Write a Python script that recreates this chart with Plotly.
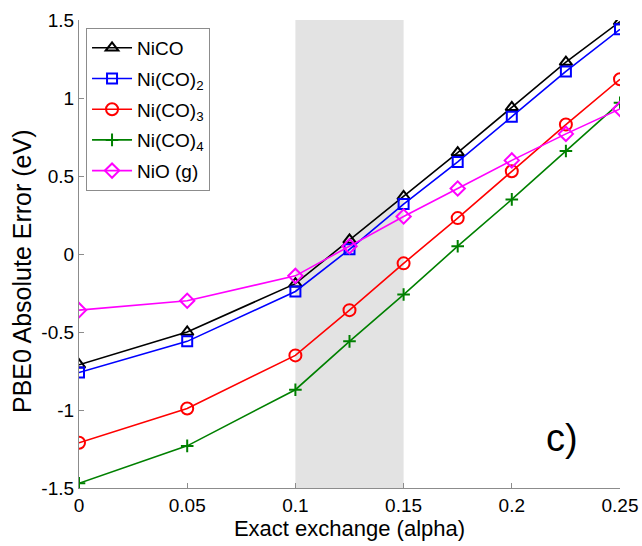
import plotly.graph_objects as go

alpha = [0, 0.05, 0.1, 0.125, 0.15, 0.175, 0.2, 0.225, 0.25]
nico = [-0.71, -0.50, -0.19, 0.09, 0.37, 0.65, 0.94, 1.23, 1.49]
nico2 = [-0.76, -0.56, -0.24, 0.03, 0.32, 0.59, 0.88, 1.17, 1.44]
nico3 = [-1.21, -0.99, -0.65, -0.36, -0.06, 0.23, 0.53, 0.83, 1.12]
nico4 = [-1.47, -1.23, -0.87, -0.56, -0.26, 0.05, 0.35, 0.66, 0.97]
nio = [-0.36, -0.30, -0.14, 0.05, 0.24, 0.42, 0.60, 0.77, 0.93]

names = ["NiCO", "Ni(CO)<sub>2</sub>", "Ni(CO)<sub>3</sub>", "Ni(CO)<sub>4</sub>", "NiO (g)"]
series = [nico, nico2, nico3, nico4, nio]
colors = ["#000000", "#0000ff", "#ff0000", "#008000", "#ff00ff"]
symbols = ["triangle-up-open", "square-open", "circle-open", "cross-thin-open", "diamond-open"]
sizes = [11, 10, 12, 9, 11]

shade_x = [0.1, 0.15]
y_range = [-1.5, 1.5]
x_range = [0, 0.25]

FONT = "Liberation Sans, Arial"

fig = go.Figure()
for i, (name, ys, c, s, sz) in enumerate(zip(names, series, colors, symbols, sizes)):
    fig.add_trace(go.Scatter(
        x=alpha, y=ys, name=name, mode="lines+markers", legendgroup=f"g{i}",
        line=dict(color=c, width=1.6),
        marker=dict(symbol=s, size=sz, color=c, line=dict(color=c, width=2)),
    ))

fig.add_shape(type="rect", xref="x", yref="y", x0=shade_x[0], x1=shade_x[1],
              y0=y_range[0], y1=y_range[1], fillcolor="#e3e3e3", line=dict(width=0),
              layer="below")

fig.add_annotation(x=0.2232, y=-1.18, xref="x", yref="y", text="c)", showarrow=False,
                   font=dict(size=38, color="black", family=FONT))

fig.add_annotation(x=-0.105, y=0.462, xref="paper", yref="paper",
                   text="PBE0 Absolute Error (eV)", showarrow=False, textangle=-90,
                   xanchor="center", yanchor="middle",
                   font=dict(size=25, color="black", family=FONT))

axis_common = dict(
    showgrid=False, zeroline=False, showline=True, linecolor="#8c8c8c", linewidth=1.2,
    ticks="inside", ticklen=5, tickcolor="#8c8c8c", mirror=False, automargin=False,
    tickfont=dict(size=19, color="black", family=FONT),
)

fig.update_layout(
    width=642, height=546,
    margin=dict(l=79, r=22, t=20, b=58),
    plot_bgcolor="white", paper_bgcolor="white",
    font=dict(family=FONT, color="black"),
    xaxis=dict(range=x_range, tickvals=[0, 0.05, 0.1, 0.15, 0.2, 0.25],
               ticktext=["0", "0.05", "0.1", "0.15", "0.2", "0.25"],
               title=dict(text="Exact exchange (alpha)", font=dict(size=22), standoff=2),
               **axis_common),
    yaxis=dict(range=y_range, tickvals=[-1.5, -1, -0.5, 0, 0.5, 1, 1.5],
               ticktext=["-1.5", "-1", "-0.5", "0", "0.5", "1", "1.5"],
               **axis_common),
    legend=dict(x=0.013, y=0.983, xanchor="left", yanchor="top",
                bordercolor="#8c8c8c", borderwidth=1, bgcolor="white",
                font=dict(size=19, color="black"), tracegroupgap=3, itemwidth=40),
    showlegend=True,
)

fig.write_html("out.html")
